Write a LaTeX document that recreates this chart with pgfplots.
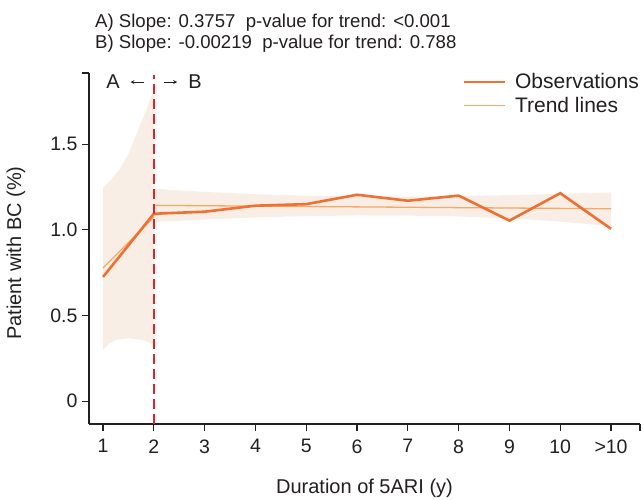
\documentclass[border=0pt]{standalone}
\usepackage{pgfplots}
\pgfplotsset{compat=1.18}
\usepackage{fontspec}
\setmainfont{Liberation Sans}
\definecolor{obs}{RGB}{238,112,50}
\definecolor{trend}{RGB}{247,168,100}
\definecolor{band}{RGB}{249,238,230}
\definecolor{vred}{RGB}{232,32,42}
\definecolor{axc}{RGB}{35,31,32}
\begin{document}
\begin{tikzpicture}[x=1pt,y=1pt]
\useasboundingbox (0,0) rectangle (643,-499);
\node[anchor=west,inner sep=0pt,font=\fontsize{18.6}{22}\selectfont,text=axc] at (95,-23) {A) Slope: 0.3757\ \ p-value for trend: <0.001};
\node[anchor=west,inner sep=0pt,font=\fontsize{18.6}{22}\selectfont,text=axc] at (95,-44) {B) Slope: -0.00219\ \ p-value for trend: 0.788};
\begin{axis}[
  at={(89pt,-424pt)}, anchor=south west,
  scale only axis, width=551pt, height=351pt,
  xmin=0.724, xmax=11.57, ymin=-0.134, ymax=1.916,
  axis x line*=bottom, axis y line*=left,
  axis line style={-, line width=1.1pt, axc},
  every tick/.style={line width=1.1pt, axc},
  tick align=outside, major tick length=7pt,
  xtick={1,2,3,4,5,6,7,8,9,10,11},
  xticklabels={1,2,3,4,5,6,7,8,9,10,>10},
  ytick={0,0.5,1,1.5},
  yticklabels={0,0.5,1.0,1.5},
  extra x ticks={11.57}, extra x tick labels={},
  extra y ticks={1.916}, extra y tick labels={},
  /pgf/number format/assume math mode=true,
  tick label style={font=\fontsize{19.5}{23}\selectfont, text=axc},
  xticklabel style={yshift=-5pt},
  yticklabel style={xshift=-1pt},
  xlabel={Duration of 5ARI (y)},
  ylabel={Patient with BC (\%)},
  label style={font=\fontsize{20}{24}\selectfont, text=axc},
  xlabel style={at={(axis description cs:0.5,-0.182)}, anchor=center},
  ylabel style={at={(axis description cs:-0.1325,0.487)}, anchor=center, rotate=0},
  legend style={at={(axis description cs:0.672,1.010)}, anchor=north west, draw=none, fill=none,
    font=\fontsize{21}{25}\selectfont, text=axc, row sep=3pt},
  legend image code/.code={\draw[#1] (0pt,0pt) -- (41pt,0pt); \path (48pt,0pt);},
  legend cell align=left,
  clip=false,
]
\addlegendimage{obs, line width=2.6pt}
\addlegendentry{Observations}
\addlegendimage{trend, line width=1.3pt}
\addlegendentry{Trend lines}
% band A
\addplot[fill=band, draw=none, forget plot] coordinates {
 (1,1.247) (1.15,1.29) (1.32,1.35) (1.51,1.45) (1.71,1.60) (1.85,1.70) (2,1.82)
 (2,0.327) (1.85,0.35) (1.77,0.357) (1.5,0.367) (1.25,0.357) (1.1,0.33) (1,0.298)} -- cycle;
% band B
\addplot[fill=band, draw=none, forget plot] coordinates {
 (2,1.240) (3,1.222) (4,1.208) (5,1.199) (6,1.195) (7,1.195) (8,1.198) (9,1.203) (10,1.210) (11,1.219)
 (11,1.022) (10,1.048) (9,1.067) (8,1.078) (7,1.083) (6,1.084) (5,1.080) (4,1.072) (3,1.060) (2,1.047)} -- cycle;
% trend lines
\addplot[trend, line width=1.3pt, forget plot] coordinates {(1,0.777) (2,1.075)};
\addplot[trend, line width=1.3pt, forget plot] coordinates {(2,1.143) (11,1.123)};
% observations
\addplot[obs, line width=2.6pt, forget plot] coordinates {
 (1,0.725) (2,1.094) (3,1.106) (4,1.141) (5,1.150) (6,1.205) (7,1.170) (8,1.200) (9,1.054) (10,1.214) (11,1.006)};
% divider
\addplot[vred, line width=2pt, dash pattern=on 10pt off 5pt, forget plot] coordinates {(2,-0.134) (2,1.905)};
\node[font=\fontsize{20}{24}\selectfont, text=axc] at (axis cs:1.197,1.863) {A};
\node[font=\fontsize{20}{24}\selectfont, text=axc] at (axis cs:2.81,1.863) {B};
\draw[-stealth, line width=0.8pt, axc] (axis cs:1.80,1.863) -- (axis cs:1.54,1.863);
\draw[-stealth, line width=0.8pt, axc] (axis cs:2.20,1.863) -- (axis cs:2.46,1.863);
\end{axis}
\end{tikzpicture}
\end{document}
